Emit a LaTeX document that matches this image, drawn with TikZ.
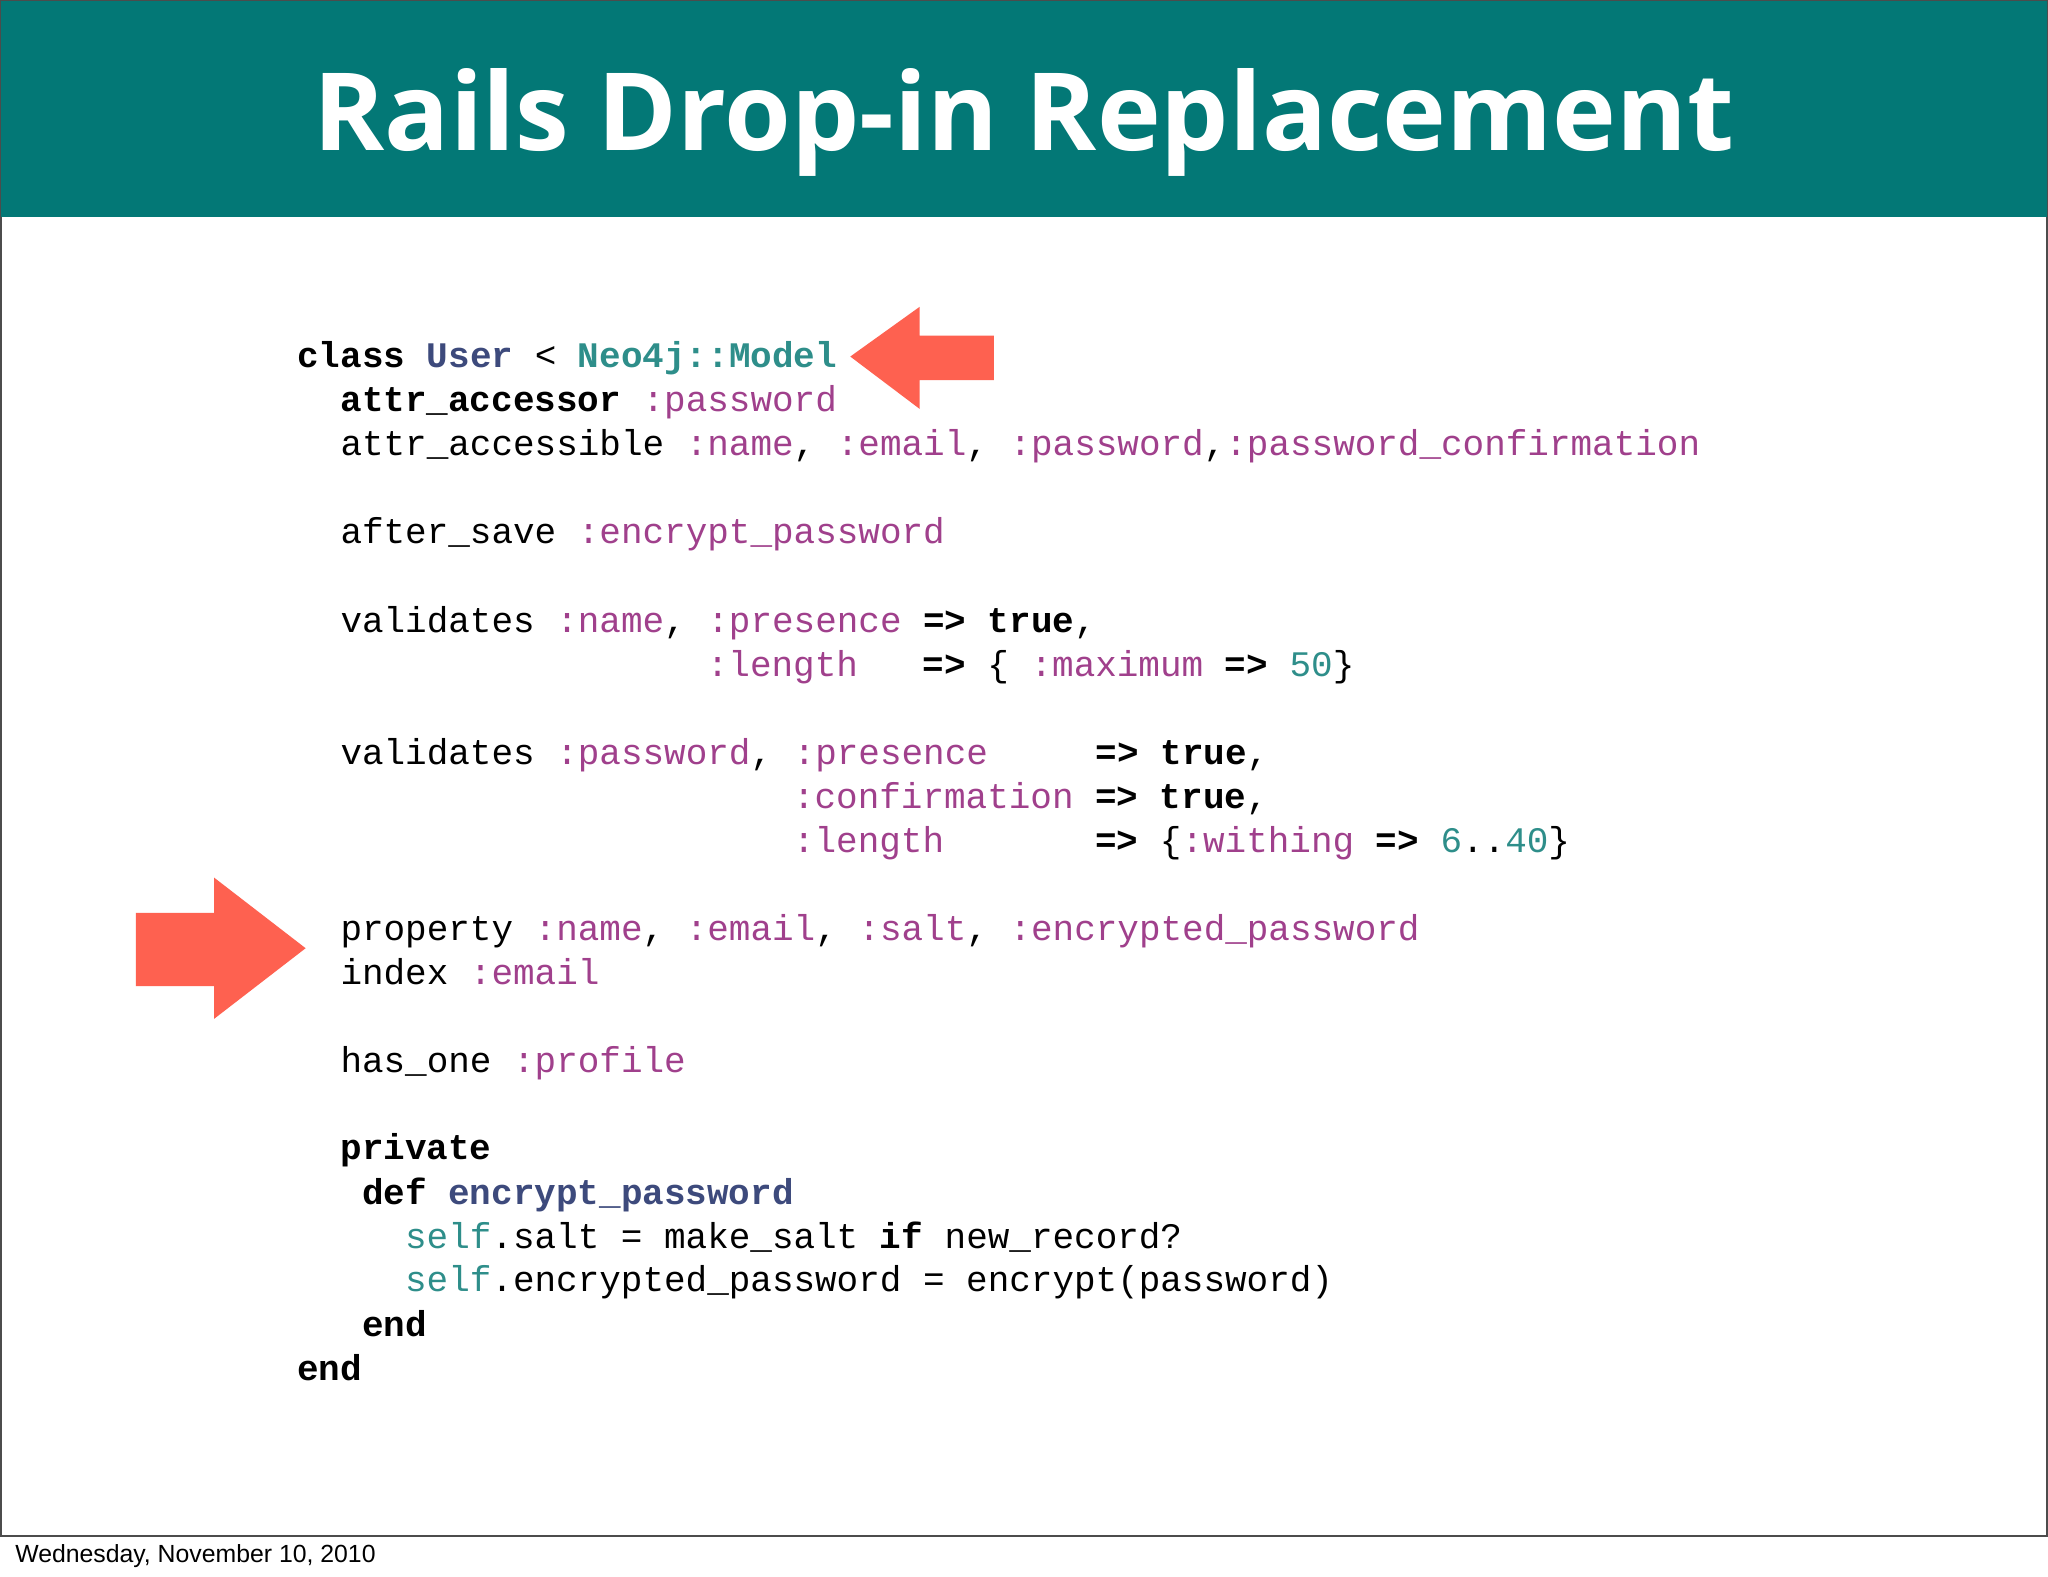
\documentclass[tikz,border=0pt]{standalone}
\usepackage{fontspec}
\setmonofont{Liberation Mono}
\newfontfamily\titlefont{Open Sans}
\newfontfamily\footfont{Liberation Sans}
\definecolor{teal1}{HTML}{037876}
\definecolor{sym}{HTML}{A0408C}
\definecolor{num}{HTML}{2E8E8A}
\definecolor{cls}{HTML}{3D4A7C}
\definecolor{arr}{HTML}{FE6150}
\newcommand\K[1]{\textbf{#1}}
\newcommand\Y[1]{\textcolor{sym}{#1}}
\newcommand\NN[1]{\textcolor{num}{#1}}
\newcommand\CC[1]{\textcolor{cls}{\textbf{#1}}}
\newcommand\TT[1]{\textcolor{num}{\textbf{#1}}}
\begin{document}
\begin{tikzpicture}[x=0.01cm,y=-0.01cm,
  code/.style={anchor=base west,inner sep=0pt,font=\ttfamily\fontsize{7.83pt}{9pt}\selectfont},
  arrowshape/.style={fill=arr,draw=none}]
\useasboundingbox (0,0) rectangle (1568,1207);
\fill[white] (0,0) rectangle (1568,1207);
\draw[black!70,line width=0.6pt] (0.5,0.5) rectangle (1567.5,1176);
\fill[teal1] (0.5,0.5) rectangle (1567.5,166);
\node[anchor=base,text=white,inner sep=0pt,font=\titlefont\bfseries\fontsize{23.5pt}{28pt}\selectfont] (title) at (784,115) {Rails Drop-in Replacement};
\node[anchor=base west,inner sep=0pt,font=\footfont\fontsize{5.4pt}{6pt}\selectfont] (foot) at (11,1196) {Wednesday, November 10, 2010};
% code lines
\def\cx{227}
\def\cw{16.5}
\node[code] (l1) at (\cx,281) {\K{class}~\CC{User}~<~\TT{Neo4j::Model}};
\node[code] (l2) at (\cx+2*\cw,315) {\K{attr\_accessor}~\Y{:password}};
\node[code] (l3) at (\cx+2*\cw,349) {attr\_accessible~\Y{:name},~\Y{:email},~\Y{:password},\Y{:password\_confirmation}};
\node[code] (l4) at (\cx+2*\cw,416) {after\_save~\Y{:encrypt\_password}};
\node[code] (l5) at (\cx+2*\cw,484) {validates~\Y{:name},~\Y{:presence}~\K{=>}~\K{true},};
\node[code] (l6) at (\cx+19*\cw,518) {\Y{:length}~~~\K{=>}~\{~\Y{:maximum}~\K{=>}~\NN{50}\}};
\node[code] (l7) at (\cx+2*\cw,585) {validates~\Y{:password},~\Y{:presence}~~~~~\K{=>}~\K{true},};
\node[code] (l8) at (\cx+23*\cw,619) {\Y{:confirmation}~\K{=>}~\K{true},};
\node[code] (l9) at (\cx+23*\cw,653) {\Y{:length}~~~~~~~\K{=>}~\{\Y{:withing}~\K{=>}~\NN{6}..\NN{40}\}};
\node[code] (l10) at (\cx+2*\cw,720) {property~\Y{:name},~\Y{:email},~\Y{:salt},~\Y{:encrypted\_password}};
\node[code] (l11) at (\cx+2*\cw,754) {index~\Y{:email}};
\node[code] (l12) at (\cx+2*\cw,821) {has\_one~\Y{:profile}};
\node[code] (l13) at (\cx+2*\cw,888) {\K{private}};
\node[code] (l14) at (\cx+3*\cw,922) {\K{def}~\CC{encrypt\_password}};
\node[code] (l15) at (\cx+5*\cw,956) {\NN{self}.salt~=~make\_salt~\K{if}~new\_record?};
\node[code] (l16) at (\cx+5*\cw,989) {\NN{self}.encrypted\_password~=~encrypt(password)};
\node[code] (l17) at (\cx+3*\cw,1023) {\K{end}};
\node[code] (l18) at (\cx,1057) {\K{end}};
% arrows
\fill[arrowshape] (651,273) -- (704,235) -- (704,257) -- (761,257) -- (761,291) -- (704,291) -- (704,313) -- cycle;
\fill[arrowshape] (234,726) -- (164,672) -- (164,699) -- (104,699) -- (104,755) -- (164,755) -- (164,780) -- cycle;
\end{tikzpicture}
\end{document}
